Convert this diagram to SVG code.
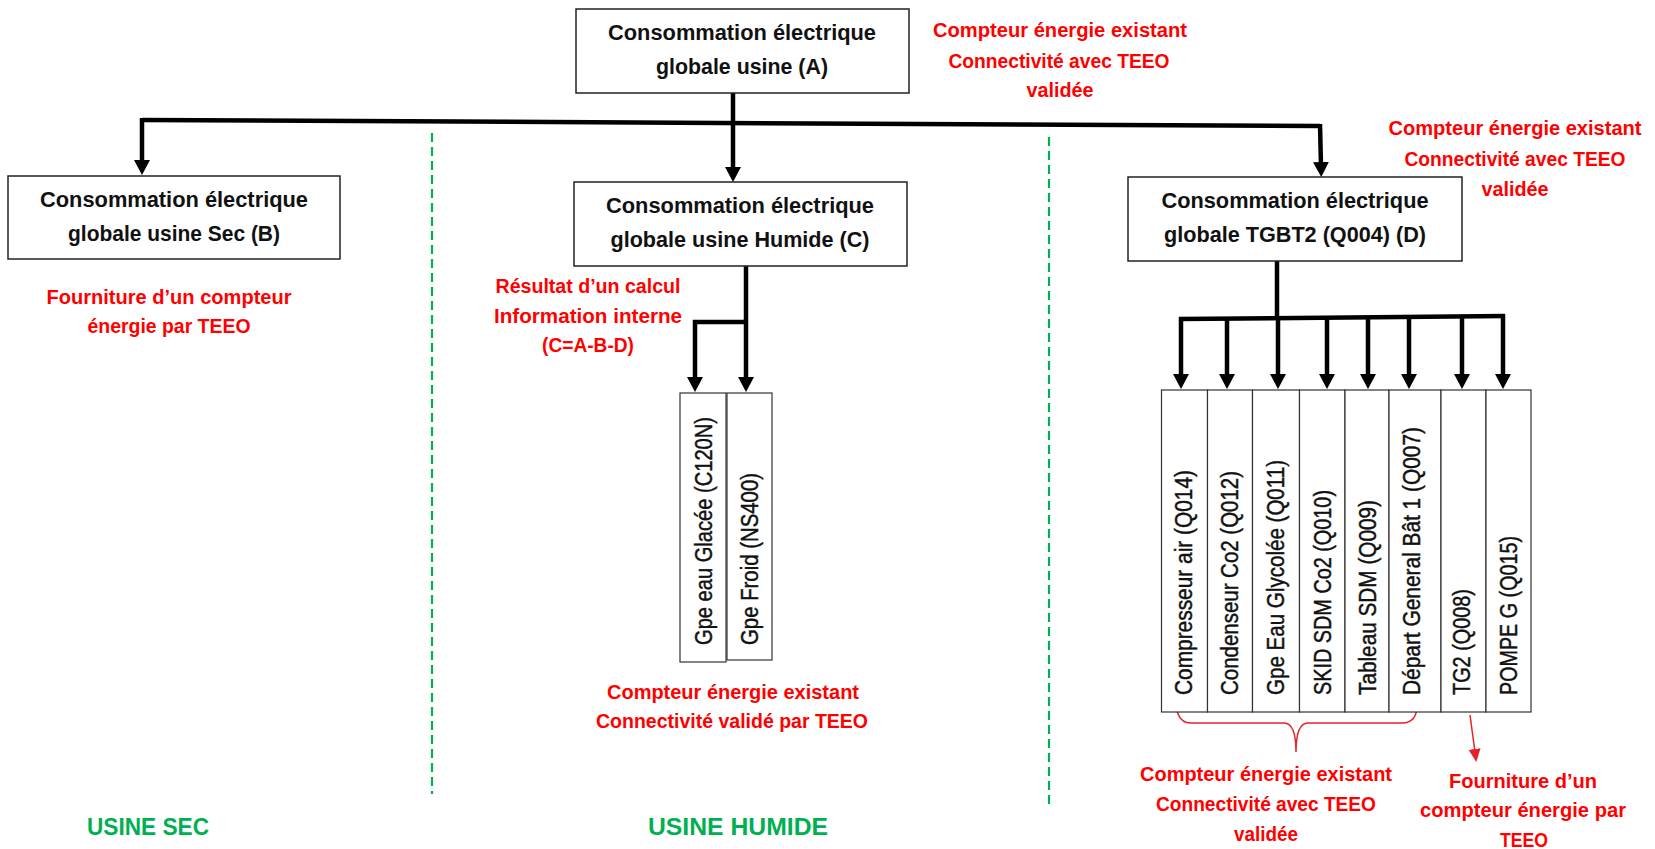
<svg xmlns="http://www.w3.org/2000/svg" width="1655" height="849" viewBox="0 0 1655 849">
<defs>
<style>
.box{fill:#fff;stroke:#222;stroke-width:1.5}
.vbox{fill:#fff;stroke:#333;stroke-width:1.2}
.bt{font-family:"Liberation Sans",Arial,sans-serif;font-weight:bold;font-size:22px;fill:#111;text-anchor:middle}
.vt{font-family:"Liberation Sans",Arial,sans-serif;font-size:23px;fill:#111;stroke:#111;stroke-width:0.45;text-anchor:start}
.rt{font-family:"Liberation Sans",Arial,sans-serif;font-weight:bold;font-size:20px;fill:#FF0000;text-anchor:middle}
.gt{font-family:"Liberation Sans",Arial,sans-serif;font-weight:bold;font-size:23px;fill:#00B050;text-anchor:middle}
.wire{fill:none;stroke:#000;stroke-width:4.5}
.arr{fill:none;stroke:#000;stroke-width:4.5;marker-end:url(#ah)}
.sep{fill:none;stroke:#00B050;stroke-width:2.2;stroke-dasharray:9 5}
.red{fill:none;stroke:#E8202A;stroke-width:1.5}
</style>
<marker id="ah" markerUnits="userSpaceOnUse" markerWidth="16" markerHeight="16" refX="4" refY="8" orient="auto">
<path d="M0,0 L15,8 L0,16 z" fill="#000"/>
</marker>
<marker id="rah" markerUnits="userSpaceOnUse" markerWidth="14" markerHeight="12" refX="3" refY="6" orient="auto">
<path d="M0,0 L13,6 L0,12 z" fill="#E8202A"/>
</marker>
</defs>
<rect width="1655" height="849" fill="#fff"/>

<g id="separators">
<line class="sep" x1="432" y1="133" x2="432" y2="794"/>
<line class="sep" x1="1049" y1="137" x2="1049" y2="804"/>
</g>

<g id="connectors">
<path class="wire" d="M142,120 L1320,126"/>
<path class="arr" d="M733,93 L733,171"/>
<path class="arr" d="M142,118 L142,164"/>
<path class="arr" d="M1320,124 L1321,166"/>
<path class="arr" d="M746,266 L746,381"/>
<path class="arr" d="M748,322 L695,322 L695,381"/>
<path class="wire" d="M1277,261 L1277,318"/>
<path class="wire" d="M1179,319 L1505,316"/>
<path class="arr" d="M1181,317 L1181,378"/>
<path class="arr" d="M1227,317 L1227,378"/>
<path class="arr" d="M1278,317 L1278,378"/>
<path class="arr" d="M1327,316 L1327,378"/>
<path class="arr" d="M1368,316 L1368,378"/>
<path class="arr" d="M1409,316 L1409,378"/>
<path class="arr" d="M1462,315 L1462,378"/>
<path class="arr" d="M1503,314 L1503,378"/>
<path class="red" d="M1175,693 Q1175,723 1190,723 L1284,723 Q1296,723 1296,752 Q1296,723 1308,723 L1402,723 Q1417,723 1417,705"/>
<path class="red" d="M1470,715 L1475,752" marker-end="url(#rah)"/>
</g>

<g id="node-A">
<rect class="box" x="576" y="9" width="333" height="84"/>
<text class="bt" x="742" y="40" textLength="268" lengthAdjust="spacingAndGlyphs">Consommation électrique</text>
<text class="bt" x="742" y="74" textLength="172" lengthAdjust="spacingAndGlyphs">globale usine (A)</text>
</g>

<g id="note-A">
<text class="rt" x="1060" y="37" textLength="254" lengthAdjust="spacingAndGlyphs">Compteur énergie existant</text>
<text class="rt" x="1059" y="68" textLength="221" lengthAdjust="spacingAndGlyphs">Connectivité avec TEEO</text>
<text class="rt" x="1060" y="97" textLength="67" lengthAdjust="spacingAndGlyphs">validée</text>
</g>

<g id="node-B">
<rect class="box" x="8" y="176" width="332" height="83"/>
<text class="bt" x="174" y="207" textLength="268" lengthAdjust="spacingAndGlyphs">Consommation électrique</text>
<text class="bt" x="174" y="241" textLength="212" lengthAdjust="spacingAndGlyphs">globale usine Sec (B)</text>
</g>

<g id="note-B">
<text class="rt" x="169" y="304" textLength="245" lengthAdjust="spacingAndGlyphs">Fourniture d’un compteur</text>
<text class="rt" x="169" y="333" textLength="163" lengthAdjust="spacingAndGlyphs">énergie par TEEO</text>
</g>

<g id="node-C">
<rect class="box" x="574" y="182" width="333" height="84"/>
<text class="bt" x="740" y="213" textLength="268" lengthAdjust="spacingAndGlyphs">Consommation électrique</text>
<text class="bt" x="740" y="247" textLength="259" lengthAdjust="spacingAndGlyphs">globale usine Humide (C)</text>
</g>

<g id="note-C">
<text class="rt" x="588" y="293" textLength="185" lengthAdjust="spacingAndGlyphs">Résultat d’un calcul</text>
<text class="rt" x="588" y="323" textLength="188" lengthAdjust="spacingAndGlyphs">Information interne</text>
<text class="rt" x="588" y="352" textLength="92" lengthAdjust="spacingAndGlyphs">(C=A-B-D)</text>
</g>

<g id="node-D">
<rect class="box" x="1128" y="177" width="334" height="84"/>
<text class="bt" x="1295" y="208" textLength="267" lengthAdjust="spacingAndGlyphs">Consommation électrique</text>
<text class="bt" x="1295" y="242" textLength="262" lengthAdjust="spacingAndGlyphs">globale TGBT2 (Q004) (D)</text>
</g>

<g id="note-D">
<text class="rt" x="1515" y="135" textLength="253" lengthAdjust="spacingAndGlyphs">Compteur énergie existant</text>
<text class="rt" x="1515" y="166" textLength="221" lengthAdjust="spacingAndGlyphs">Connectivité avec TEEO</text>
<text class="rt" x="1515" y="196" textLength="67" lengthAdjust="spacingAndGlyphs">validée</text>
</g>

<g id="node-C120N">
<rect class="vbox" x="680" y="393" width="46" height="269"/>
<text class="vt" transform="translate(712,645) rotate(-90)" textLength="228" lengthAdjust="spacingAndGlyphs">Gpe eau Glacée (C120N)</text>
</g>
<g id="node-NS400">
<rect class="vbox" x="727" y="393" width="45" height="267"/>
<text class="vt" transform="translate(758,645) rotate(-90)" textLength="172" lengthAdjust="spacingAndGlyphs">Gpe Froid (NS400)</text>
</g>

<g id="note-humide">
<text class="rt" x="733" y="699" textLength="252" lengthAdjust="spacingAndGlyphs">Compteur énergie existant</text>
<text class="rt" x="732" y="728" textLength="272" lengthAdjust="spacingAndGlyphs">Connectivité validé par TEEO</text>
</g>

<g id="node-Q014">
<rect class="vbox" x="1161.5" y="390" width="46" height="322"/>
<text class="vt" transform="translate(1192,695) rotate(-90)" textLength="225" lengthAdjust="spacingAndGlyphs">Compresseur air (Q014)</text>
</g>
<g id="node-Q012">
<rect class="vbox" x="1207.5" y="390" width="45" height="322"/>
<text class="vt" transform="translate(1238,695) rotate(-90)" textLength="224" lengthAdjust="spacingAndGlyphs">Condenseur Co2 (Q012)</text>
</g>
<g id="node-Q011">
<rect class="vbox" x="1252.5" y="390" width="47" height="322"/>
<text class="vt" transform="translate(1284,695) rotate(-90)" textLength="235" lengthAdjust="spacingAndGlyphs">Gpe Eau Glycolée (Q011)</text>
</g>
<g id="node-Q010">
<rect class="vbox" x="1299.5" y="390" width="45.5" height="322"/>
<text class="vt" transform="translate(1331,695) rotate(-90)" textLength="205" lengthAdjust="spacingAndGlyphs">SKID SDM Co2 (Q010)</text>
</g>
<g id="node-Q009">
<rect class="vbox" x="1345" y="390" width="44" height="322"/>
<text class="vt" transform="translate(1376,695) rotate(-90)" textLength="195" lengthAdjust="spacingAndGlyphs">Tableau SDM (Q009)</text>
</g>
<g id="node-Q007">
<rect class="vbox" x="1389" y="390" width="52" height="322"/>
<text class="vt" transform="translate(1420,695) rotate(-90)" textLength="268" lengthAdjust="spacingAndGlyphs">Départ General Bât 1 (Q007)</text>
</g>
<g id="node-Q008">
<rect class="vbox" x="1441" y="390" width="45" height="322"/>
<text class="vt" transform="translate(1470,695) rotate(-90)" textLength="106" lengthAdjust="spacingAndGlyphs">TG2 (Q008)</text>
</g>
<g id="node-Q015">
<rect class="vbox" x="1486" y="390" width="45" height="322"/>
<text class="vt" transform="translate(1517,695) rotate(-90)" textLength="159" lengthAdjust="spacingAndGlyphs">POMPE G (Q015)</text>
</g>

<g id="note-existing">
<text class="rt" x="1266" y="781" textLength="252" lengthAdjust="spacingAndGlyphs">Compteur énergie existant</text>
<text class="rt" x="1266" y="811" textLength="220" lengthAdjust="spacingAndGlyphs">Connectivité avec TEEO</text>
<text class="rt" x="1266" y="841" textLength="64" lengthAdjust="spacingAndGlyphs">validée</text>
</g>

<g id="note-TG2">
<text class="rt" x="1523" y="788" textLength="148" lengthAdjust="spacingAndGlyphs">Fourniture d’un</text>
<text class="rt" x="1523" y="817" textLength="206" lengthAdjust="spacingAndGlyphs">compteur énergie par</text>
<text class="rt" x="1524" y="847" textLength="48" lengthAdjust="spacingAndGlyphs">TEEO</text>
</g>

<g id="labels">
<text class="gt" x="148" y="835" textLength="122" lengthAdjust="spacingAndGlyphs">USINE SEC</text>
<text class="gt" x="738" y="835" textLength="180" lengthAdjust="spacingAndGlyphs">USINE HUMIDE</text>
</g>
</svg>
